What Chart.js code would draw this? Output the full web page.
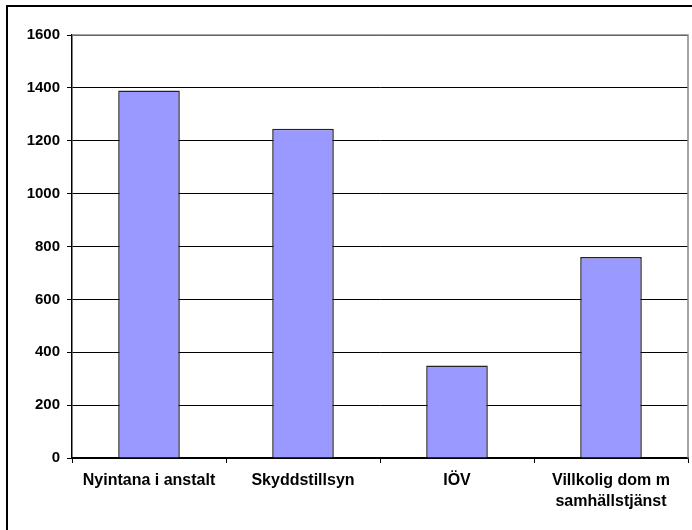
<!DOCTYPE html>
<html>
<head>
<meta charset="utf-8">
<script src="https://cdn.jsdelivr.net/npm/chart.js@4/dist/chart.umd.min.js"></script>
<style>
  html, body { margin: 0; padding: 0; background: #fff; }
  #wrap { position: relative; width: 692px; height: 530px; overflow: hidden; }
  #frame { position: absolute; left: 6px; top: 5px; width: 700px; height: 600px;
           border-left: 2px solid #000; border-top: 2px solid #000; box-sizing: border-box; }
  canvas { position: absolute; left: 0; top: 0; }
</style>
</head>
<body>
<div id="wrap">
  <div id="frame"></div>
  <canvas id="chart" width="692" height="530"></canvas>
</div>
<script>
// kategorier och värden
const categories = ['Nyintana i anstalt', 'Skyddstillsyn', 'IÖV', ['Villkolig dom m', 'samhällstjänst']];
const values = [1390, 1245, 350, 760];
const yMin = 0;
const yMax = 1600;
const yStep = 200;

// ram runt diagramytan (grå överkant och högerkant)
const plotFrame = {
  id: 'plotFrame',
  afterDraw(chart) {
    const { ctx, chartArea } = chart;
    ctx.save();
    ctx.strokeStyle = '#888';
    ctx.lineWidth = 1.5;
    ctx.beginPath();
    ctx.moveTo(chartArea.left, chartArea.top);
    ctx.lineTo(chartArea.right, chartArea.top);
    ctx.lineTo(chartArea.right, chartArea.bottom);
    ctx.stroke();
    ctx.restore();
  }
};

const ctx = document.getElementById('chart').getContext('2d');
new Chart(ctx, {
  type: 'bar',
  data: {
    labels: categories,
    datasets: [{
      data: values,
      backgroundColor: '#9999ff',
      borderColor: '#222',
      borderWidth: 1.5,
      barPercentage: 0.4,
      categoryPercentage: 1
    }]
  },
  options: {
    responsive: false,
    animation: false,
    layout: { padding: { top: 35, right: 4, left: 0, bottom: 0 } },
    plugins: { legend: { display: false }, tooltip: { enabled: false } },
    scales: {
      x: {
        afterFit: s => { s.height = 72; },
        grid: { display: true, drawOnChartArea: false, drawTicks: true, tickLength: 5, color: '#000', offset: true },
        border: { display: true, color: '#000', width: 1.5 },
        ticks: {
          color: '#000',
          padding: 7,
          maxRotation: 0,
          font: { family: 'Liberation Sans, Arial', size: 16, weight: 'bold', lineHeight: 1.3 }
        }
      },
      y: {
        min: yMin,
        max: yMax,
        afterFit: s => { s.width = 72; },
        grid: { color: '#000', lineWidth: 1, tickLength: 5 },
        border: { display: true, color: '#000', width: 1.5 },
        ticks: {
          stepSize: yStep,
          color: '#000',
          padding: 7,
          callback: v => String(v),
          font: { family: 'Liberation Sans, Arial', size: 15, weight: 'bold' }
        }
      }
    }
  },
  plugins: [plotFrame]
});
</script>
</body>
</html>
